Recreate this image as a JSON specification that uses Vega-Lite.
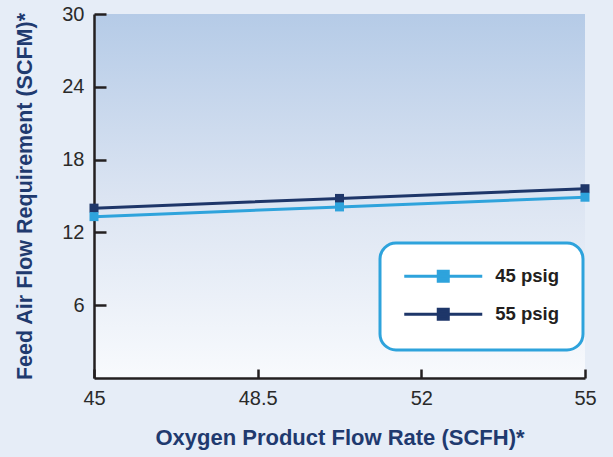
{
  "$schema": "https://vega.github.io/schema/vega-lite/v6.json",
  "width": 491,
  "height": 364,
  "autosize": "none",
  "padding": {"left": 94, "top": 14, "right": 28, "bottom": 79},
  "background": "#e6edf7",
  "config": {
    "view": {"stroke": null, "fill": {"gradient": "linear", "x1": 0, "y1": 0, "x2": 0, "y2": 1, "stops": [{"offset": 0, "color": "#b5cbe7"}, {"offset": 0.5, "color": "#dbe4f2"}, {"offset": 1, "color": "#f8fafd"}]}},
    "font": "Liberation Sans"
  },
  "data": {"values": [
    {"flow": 45, "air": 14.0, "pressure": "55 psig"},
    {"flow": 50, "air": 14.8, "pressure": "55 psig"},
    {"flow": 55, "air": 15.6, "pressure": "55 psig"},
    {"flow": 45, "air": 13.3, "pressure": "45 psig"},
    {"flow": 50, "air": 14.1, "pressure": "45 psig"},
    {"flow": 55, "air": 14.9, "pressure": "45 psig"}
  ]},
  "encoding": {
    "x": {
      "field": "flow", "type": "quantitative",
      "scale": {"domain": [45, 55], "nice": false, "zero": false},
      "axis": {
        "title": "Oxygen Product Flow Rate (SCFH)*",
        "values": [45, 48.3333, 51.6667, 55],
        "labelExpr": "datum.value < 46 ? '45' : datum.value < 50 ? '48.5' : datum.value < 53 ? '52' : '55'",
        "grid": false,
        "domainColor": "#231f20", "domainWidth": 2.5,
        "tickColor": "#231f20", "tickWidth": 2.5, "tickSize": -9,
        "labelFontSize": 20, "labelColor": "#2a2a2a", "labelPadding": 19, "labelFlush": false,
        "titleFontSize": 22, "titleFontWeight": "bold", "titleColor": "#1f3a6f", "titlePadding": 19
      }
    },
    "y": {
      "field": "air", "type": "quantitative",
      "scale": {"domain": [0, 30], "nice": false},
      "axis": {
        "title": "Feed Air Flow Requirement (SCFM)*",
        "values": [6, 12, 18, 24, 30],
        "grid": false,
        "domainColor": "#231f20", "domainWidth": 2.5,
        "tickColor": "#231f20", "tickWidth": 2.5, "tickSize": -12,
        "labelFontSize": 20, "labelColor": "#2a2a2a", "labelPadding": 22,
        "titleFontSize": 21.5, "titleFontWeight": "bold", "titleColor": "#1f3a6f", "titlePadding": 25
      }
    },
    "color": {
      "field": "pressure", "type": "nominal",
      "scale": {"domain": ["45 psig", "55 psig"], "range": ["#2ea3dc", "#1e3669"]},
      "legend": {
        "title": null, "orient": "none", "direction": "vertical",
        "legendX": 286, "legendY": 229,
        "padding": 24, "rowPadding": 15,
        "strokeColor": "#2ea3dc", "cornerRadius": 16, "fillColor": "#ffffff",
        "symbolType": "M-7.8,0H7.8M-1,-1H1V1H-1Z", "symbolSize": 100, "symbolStrokeWidth": 3,
        "symbolOffset": 30, "labelOffset": 42.75,
        "labelFontSize": 18.5, "labelFontWeight": "bold", "labelColor": "#231f20",
        "encode": {
          "legend": {"update": {"strokeWidth": {"value": 3}}},
          "symbols": {"update": {"fill": {"scale": "color", "field": "value"}, "stroke": {"scale": "color", "field": "value"}, "opacity": {"value": 1}}}
        }
      }
    }
  },
  "layer": [
    {"mark": {"type": "line", "strokeWidth": 3}},
    {"mark": {"type": "point", "shape": "square", "filled": true, "size": 81, "opacity": 1}}
  ]
}
